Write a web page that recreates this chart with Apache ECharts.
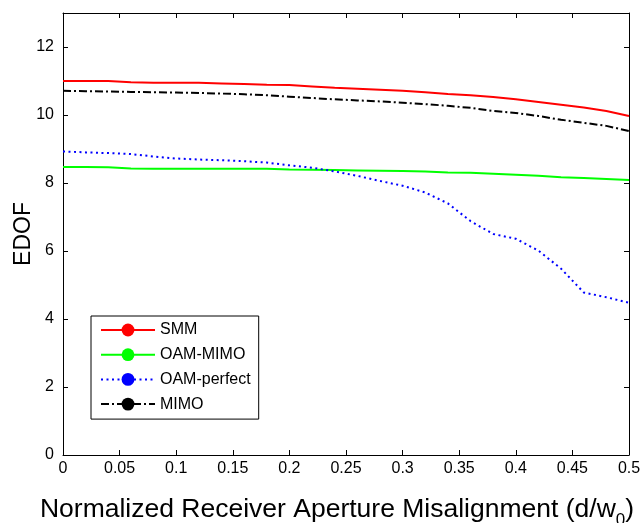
<!DOCTYPE html>
<html>
<head>
<meta charset="utf-8">
<script src="https://cdn.jsdelivr.net/npm/echarts@6/dist/echarts.min.js"></script>
<style>
html,body{margin:0;padding:0;background:#fff;}
#c{width:640px;height:523px;}
</style>
</head>
<body>
<div id="c"></div>
<script>
const xValues = [0,0.02,0.04,0.06,0.08,0.10,0.12,0.14,0.16,0.18,0.20,0.22,0.24,0.26,0.28,0.30,0.32,0.34,0.36,0.38,0.40,0.42,0.44,0.46,0.48,0.50];
const smm = [11.0,11.0,11.0,10.96,10.95,10.95,10.95,10.93,10.91,10.89,10.88,10.84,10.80,10.77,10.74,10.71,10.67,10.62,10.58,10.53,10.46,10.38,10.30,10.22,10.12,9.97];
const oamMimo = [8.47,8.47,8.46,8.43,8.42,8.42,8.42,8.42,8.42,8.42,8.40,8.39,8.38,8.37,8.36,8.35,8.34,8.31,8.30,8.27,8.24,8.21,8.17,8.15,8.12,8.09];
const oamPerfect = [8.93,8.90,8.88,8.85,8.78,8.72,8.69,8.67,8.64,8.60,8.52,8.45,8.34,8.21,8.06,7.92,7.72,7.40,6.88,6.50,6.36,6.01,5.48,4.78,4.64,4.48];
const mimo = [10.71,10.70,10.69,10.68,10.67,10.66,10.65,10.63,10.61,10.58,10.54,10.50,10.46,10.43,10.40,10.36,10.32,10.27,10.21,10.12,10.06,9.97,9.86,9.77,9.68,9.53];
const seriesNames = ['SMM','OAM-MIMO','OAM-perfect','MIMO'];
const xTickLabels = ['0','0.05','0.1','0.15','0.2','0.25','0.3','0.35','0.4','0.45','0.5'];
const yTickLabels = ['0','2','4','6','8','10','12'];

const FONT = 'Liberation Sans, Arial, sans-serif';
const pairs = arr => xValues.map((x, i) => [x, arr[i]]);

const chart = echarts.init(document.getElementById('c'), null, {renderer: 'canvas'});
const axisLine = () => ({show: true, onZero: false, lineStyle: {color: '#000', width: 1}});
const tickIn = () => ({show: true, inside: true, length: 5, lineStyle: {color: '#000', width: 1}});

chart.setOption({
  animation: false,
  backgroundColor: '#fff',
  grid: {left: 63, right: 11, top: 13, bottom: 68, containLabel: false,
         outerBounds: {left: -300, right: -300, top: -300, bottom: -300}},
  xAxis: [{
    type: 'value', min: 0, max: 0.5, interval: 0.05,
    axisLine: axisLine(), axisTick: tickIn(), splitLine: {show: false},
    axisLabel: {
      color: '#000', fontFamily: FONT, fontSize: 16, margin: 6,
      formatter: v => { const s = xTickLabels.find(t => Math.abs(parseFloat(t) - v) < 1e-9); return s === undefined ? '' : s; }
    },
    name: '{n|Normalized Receiver Aperture Misalignment (d/w}{s|0}{n|)}',
    nameLocation: 'middle', nameGap: 41,
    nameTextStyle: {
      color: '#000', fontFamily: FONT, fontSize: 26.5, padding: [0, 18, 0, 0],
      rich: {
        n: {fontFamily: FONT, fontSize: 26.5, color: '#000', verticalAlign: 'bottom'},
        s: {fontFamily: FONT, fontSize: 17, color: '#000', verticalAlign: 'bottom', padding: [0, 0, -6, 0]}
      }
    }
  }, {
    type: 'value', position: 'top', min: 0, max: 0.5, interval: 0.05,
    axisLine: axisLine(), axisTick: tickIn(), axisLabel: {show: false}, splitLine: {show: false}
  }],
  yAxis: [{
    type: 'value', min: 0, max: 13, interval: 2,
    axisLine: axisLine(), axisTick: tickIn(), splitLine: {show: false},
    axisLabel: {
      color: '#000', fontFamily: FONT, fontSize: 16, margin: 9,
      formatter: v => yTickLabels.includes(String(v)) ? String(v) : ''
    },
    name: 'EDOF', nameLocation: 'middle', nameGap: 28, nameMoveOverlap: false,
    nameTextStyle: {color: '#000', fontFamily: FONT, fontSize: 23}
  }, {
    type: 'value', position: 'right', min: 0, max: 13, interval: 2,
    axisLine: axisLine(), axisTick: tickIn(), axisLabel: {show: false}, splitLine: {show: false}
  }],
  legend: {
    orient: 'vertical', left: 91, top: 316,
    data: seriesNames,
    itemWidth: 54, itemHeight: 16, itemGap: 8.7,
    padding: [6, 8, 7, 9],
    borderColor: '#000', borderWidth: 1, backgroundColor: '#fff',
    textStyle: {color: '#000', fontFamily: FONT, fontSize: 16}
  },
  series: [
    {name: seriesNames[0], type: 'line', data: pairs(smm), symbol: 'none',
     lineStyle: {color: '#ff0000', width: 2, type: 'solid'}, itemStyle: {color: '#ff0000'}, z: 4},
    {name: seriesNames[1], type: 'line', data: pairs(oamMimo), symbol: 'none',
     lineStyle: {color: '#00ff00', width: 2, type: 'solid'}, itemStyle: {color: '#00ff00'}, z: 3},
    {name: seriesNames[2], type: 'line', data: pairs(oamPerfect), symbol: 'none',
     lineStyle: {color: '#0000ff', width: 2, type: [2, 3.5]}, itemStyle: {color: '#0000ff'}, z: 5},
    {name: seriesNames[3], type: 'line', data: pairs(mimo), symbol: 'none',
     lineStyle: {color: '#000', width: 2, type: [8, 3, 2, 3]}, itemStyle: {color: '#000'}, z: 4}
  ]
});
</script>
</body>
</html>
